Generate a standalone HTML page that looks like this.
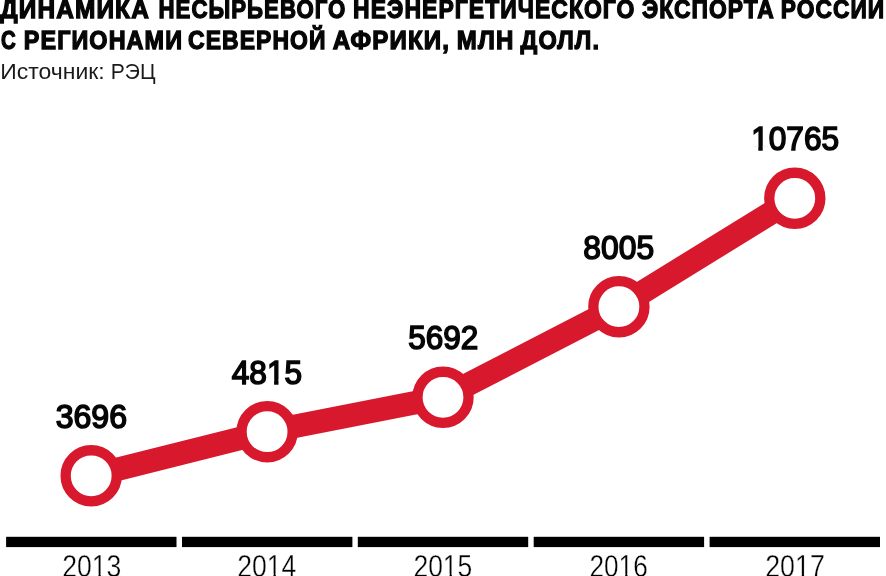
<!DOCTYPE html>
<html lang="ru">
<head>
<meta charset="utf-8">
<title>Динамика несырьевого неэнергетического экспорта России</title>
<style>
html,body{margin:0;padding:0;background:#fff;}
body{width:886px;height:576px;overflow:hidden;}
svg{display:block;}
text{font-family:"Liberation Sans",sans-serif;fill:#060606;}
.t{font-weight:bold;stroke:#060606;stroke-width:1.3;letter-spacing:1.2px;}
.s{fill:#1a1a1a;}
.v{stroke:#060606;stroke-width:1.6;}
.y{fill:#000;stroke:#fff;stroke-width:0.35;}
</style>
</head>
<body>
<svg width="886" height="576" viewBox="0 0 886 576">
<rect width="886" height="576" fill="#fff"/>
<text class="t" font-size="25.90" x="0.30" y="18.15" textLength="149.60" lengthAdjust="spacingAndGlyphs">ДИНАМИКА</text>
<text class="t" font-size="25.90" x="158.49" y="18.15" textLength="187.93" lengthAdjust="spacingAndGlyphs">НЕСЫРЬЕВОГО</text>
<text class="t" font-size="25.90" x="353.09" y="18.15" textLength="282.42" lengthAdjust="spacingAndGlyphs">НЕЭНЕРГЕТИЧЕСКОГО</text>
<text class="t" font-size="25.90" x="642.00" y="18.15" textLength="132.91" lengthAdjust="spacingAndGlyphs">ЭКСПОРТА</text>
<text class="t" font-size="25.90" x="780.87" y="18.15" textLength="104.39" lengthAdjust="spacingAndGlyphs">РОССИИ</text>
<text class="t" font-size="25.90" x="1.04" y="49.05" textLength="15.68" lengthAdjust="spacingAndGlyphs">С</text>
<text class="t" font-size="25.90" x="23.78" y="49.05" textLength="159.26" lengthAdjust="spacingAndGlyphs">РЕГИОНАМИ</text>
<text class="t" font-size="25.90" x="188.09" y="49.05" textLength="138.45" lengthAdjust="spacingAndGlyphs">СЕВЕРНОЙ</text>
<text class="t" font-size="25.90" x="332.65" y="49.05" textLength="117.38" lengthAdjust="spacingAndGlyphs">АФРИКИ,</text>
<text class="t" font-size="25.90" x="456.85" y="49.05" textLength="57.57" lengthAdjust="spacingAndGlyphs">МЛН</text>
<text class="t" font-size="25.90" x="520.61" y="49.05" textLength="79.43" lengthAdjust="spacingAndGlyphs">ДОЛЛ.</text>
<text class="s" font-size="22.00" x="0.38" y="79.10" textLength="104.30" lengthAdjust="spacingAndGlyphs">Источник:</text>
<text class="s" font-size="22.00" x="110.76" y="79.10" textLength="44.77" lengthAdjust="spacingAndGlyphs">РЭЦ</text>
<polyline points="91.2,475.8 267.1,431.7 443.0,397.3 618.9,306.7 794.8,198.3" fill="none" stroke="#d8182c" stroke-width="23.4" stroke-linejoin="round"/>
<g fill="#fff" stroke="#d8182c" stroke-width="10.3">
<circle cx="91.2" cy="475.8" r="25.55"/>
<circle cx="267.1" cy="431.7" r="25.55"/>
<circle cx="443.0" cy="397.3" r="25.55"/>
<circle cx="618.9" cy="306.7" r="25.55"/>
<circle cx="794.8" cy="198.3" r="25.55"/>
</g>
<text class="v" font-size="33.30" x="55.69" y="427.70" textLength="71.37" lengthAdjust="spacingAndGlyphs">3696</text>
<text class="v" font-size="33.30" x="231.80" y="383.60" textLength="70.31" lengthAdjust="spacingAndGlyphs">4815</text>
<rect x="267.86" y="379.61" width="6.24" height="5.49" fill="#fff"/>
<rect x="278.49" y="379.61" width="5.99" height="5.49" fill="#fff"/>
<text class="v" font-size="33.30" x="408.29" y="349.20" textLength="70.07" lengthAdjust="spacingAndGlyphs">5692</text>
<text class="v" font-size="33.30" x="583.34" y="258.60" textLength="70.77" lengthAdjust="spacingAndGlyphs">8005</text>
<text class="v" font-size="33.30" x="751.16" y="150.20" textLength="87.95" lengthAdjust="spacingAndGlyphs">10765</text>
<rect x="752.07" y="146.21" width="6.24" height="5.49" fill="#fff"/>
<rect x="762.71" y="146.21" width="6.00" height="5.49" fill="#fff"/>
<g fill="#000">
<rect x="6.1" y="536.8" width="170.4" height="10.3"/>
<rect x="182.0" y="536.8" width="170.4" height="10.3"/>
<rect x="357.8" y="536.8" width="170.4" height="10.3"/>
<rect x="533.7" y="536.8" width="170.4" height="10.3"/>
<rect x="709.6" y="536.8" width="170.4" height="10.3"/>
</g>
<text class="y" font-size="30.80" x="62.13" y="576.90" textLength="59.18" lengthAdjust="spacingAndGlyphs">2013</text>
<rect x="93.05" y="573.90" width="5.36" height="3.70" fill="#fff"/>
<rect x="100.76" y="573.90" width="5.16" height="3.70" fill="#fff"/>
<text class="y" font-size="30.80" x="237.23" y="576.90" textLength="59.10" lengthAdjust="spacingAndGlyphs">2014</text>
<rect x="268.11" y="573.90" width="5.36" height="3.70" fill="#fff"/>
<rect x="275.81" y="573.90" width="5.15" height="3.70" fill="#fff"/>
<text class="y" font-size="30.80" x="413.42" y="576.90" textLength="58.89" lengthAdjust="spacingAndGlyphs">2015</text>
<rect x="444.19" y="573.90" width="5.34" height="3.70" fill="#fff"/>
<rect x="451.87" y="573.90" width="5.13" height="3.70" fill="#fff"/>
<text class="y" font-size="30.80" x="589.53" y="576.90" textLength="58.18" lengthAdjust="spacingAndGlyphs">2016</text>
<rect x="619.91" y="573.90" width="5.28" height="3.70" fill="#fff"/>
<rect x="627.51" y="573.90" width="5.08" height="3.70" fill="#fff"/>
<text class="y" font-size="30.80" x="765.22" y="576.90" textLength="59.56" lengthAdjust="spacingAndGlyphs">2017</text>
<rect x="796.34" y="573.90" width="5.39" height="3.70" fill="#fff"/>
<rect x="804.10" y="573.90" width="5.18" height="3.70" fill="#fff"/>
</svg>
</body>
</html>
